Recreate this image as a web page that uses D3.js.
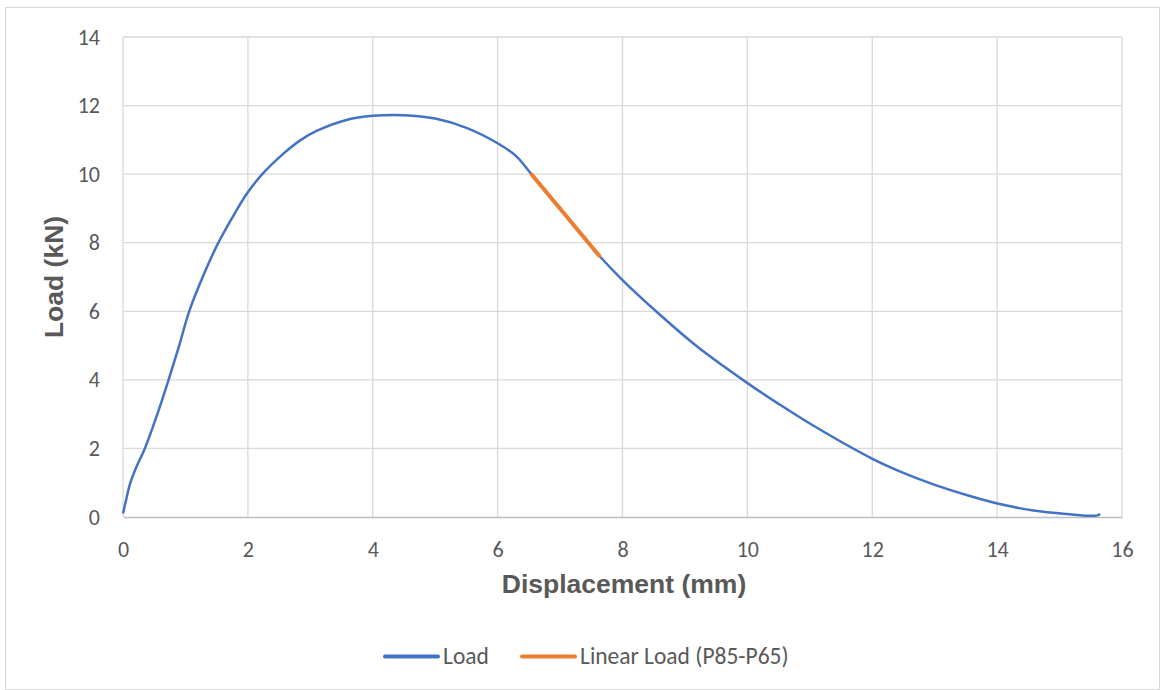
<!DOCTYPE html>
<html>
<head>
<meta charset="utf-8">
<script src="https://cdn.jsdelivr.net/npm/d3@7"></script>
<style>
  body { margin: 0; background: #fff; }
  svg text { font-family: Carlito, Calibri, Lato, sans-serif; fill: #595959; }
</style>
</head>
<body>
<div id="chart"></div>
<script>
// Load curve
const loadX = [0, 0.05, 0.11, 0.2, 0.35, 0.55, 0.73, 0.9, 1.06, 1.3, 1.5, 1.74, 1.98, 2.22,
  2.57, 2.85, 3.1, 3.58, 4.0, 4.5, 5.0, 5.5, 6.0, 6.3, 6.545, 7.0, 7.3, 7.628, 8.0, 8.55, 9.19,
  9.99, 10.5, 11.06, 12.02, 12.44, 12.98, 13.51, 13.99, 14.58, 15.11, 15.59, 15.65];
const loadY = [0.1, 0.5, 0.95, 1.4, 2.0, 3.0, 4.0, 5.0, 6.0, 7.1, 7.9, 8.7, 9.42, 9.98,
  10.6, 11.0, 11.26, 11.58, 11.7, 11.72, 11.62, 11.35, 10.9, 10.52, 9.99, 8.99, 8.33, 7.62, 6.91, 5.98, 4.98,
  3.92, 3.3, 2.66, 1.68, 1.33, 0.95, 0.64, 0.4, 0.19, 0.09, 0.04, 0.09];

// Linear fit between P85 and P65
const linX = [6.545, 7.628];
const linY = [9.99, 7.62];

const xTicks = [0, 2, 4, 6, 8, 10, 12, 14, 16];
const yTicks = [0, 2, 4, 6, 8, 10, 12, 14];
const seriesNames = ["Load", "Linear Load (P85-P65)"];
const seriesColors = ["#4472C4", "#ED7D31"];

const W = 1161, H = 690;
const margin = { top: 37, right: 39, bottom: 173, left: 123 },
    width = W - margin.left - margin.right,
    height = H - margin.top - margin.bottom;

const svg = d3.select("#chart").append("svg")
    .attr("width", W)
    .attr("height", H);

// chart border
svg.append("rect")
    .attr("x", 5.5).attr("y", 7.5)
    .attr("width", W - 7).attr("height", H - 8)
    .attr("fill", "#fff")
    .attr("stroke", "#D9D9D9");

const g = svg.append("g")
    .attr("transform", `translate(${margin.left},${margin.top})`);

const x = d3.scaleLinear().domain([0, 16]).range([0, width]);
const y = d3.scaleLinear().domain([0, 14]).range([height, 0]);

// gridlines
g.append("g").selectAll("line").data(yTicks.filter(d => d > 0)).join("line")
    .attr("x1", 0).attr("x2", width)
    .attr("y1", d => y(d)).attr("y2", d => y(d))
    .attr("stroke", "#D9D9D9").attr("stroke-width", 1.3);

g.append("g").selectAll("line").data(xTicks).join("line")
    .attr("x1", d => x(d)).attr("x2", d => x(d))
    .attr("y1", 0).attr("y2", height)
    .attr("stroke", "#D9D9D9").attr("stroke-width", 1.3);

// axes (labels only, line drawn separately)
const xAxis = g.append("g")
    .attr("transform", `translate(0,${height})`)
    .call(d3.axisBottom(x).tickValues(xTicks).tickSize(0).tickPadding(24).tickFormat(d3.format("d")));
xAxis.select(".domain").attr("stroke", "#BFBFBF").attr("stroke-width", 1.3);
xAxis.selectAll("text").style("font-size", "22px").attr("fill", "#595959");

const yAxis = g.append("g")
    .call(d3.axisLeft(y).tickValues(yTicks).tickSize(0).tickPadding(23).tickFormat(d3.format("d")));
yAxis.select(".domain").remove();
yAxis.selectAll("text").style("font-size", "22px").attr("fill", "#595959");

// axis titles
svg.append("text")
    .attr("x", 624).attr("y", 593)
    .attr("text-anchor", "middle")
    .style("font-family", "'Liberation Sans', Arial, sans-serif")
    .style("font-weight", "bold")
    .style("font-size", "26.5px")
    .text("Displacement (mm)");

svg.append("text")
    .attr("transform", "translate(63,277) rotate(-90)")
    .attr("text-anchor", "middle")
    .style("font-family", "'Liberation Sans', Arial, sans-serif")
    .style("font-weight", "bold")
    .style("font-size", "26.5px")
    .text("Load (kN)");

// series
const line = d3.line()
    .x(d => x(d[0]))
    .y(d => y(d[1]))
    .curve(d3.curveCatmullRom.alpha(0.5));

g.append("path")
    .datum(loadX.map((d, i) => [d, loadY[i]]))
    .attr("fill", "none")
    .attr("stroke", seriesColors[0])
    .attr("stroke-width", 2.5)
    .attr("d", line);

g.append("path")
    .datum(linX.map((d, i) => [d, linY[i]]))
    .attr("fill", "none")
    .attr("stroke", seriesColors[1])
    .attr("stroke-width", 4)
    .attr("stroke-linecap", "round")
    .attr("d", d3.line().x(d => x(d[0])).y(d => y(d[1])));

// legend
const legendX = [385, 522];
const legend = svg.append("g");
seriesNames.forEach((name, i) => {
    legend.append("line")
        .attr("x1", legendX[i]).attr("x2", legendX[i] + 53)
        .attr("y1", 656.5).attr("y2", 656.5)
        .attr("stroke", seriesColors[i])
        .attr("stroke-width", 4)
        .attr("stroke-linecap", "round");
    legend.append("text")
        .attr("x", legendX[i] + 58).attr("y", 664)
        .style("font-size", "23.5px")
        .text(name);
});
</script>
</body>
</html>
